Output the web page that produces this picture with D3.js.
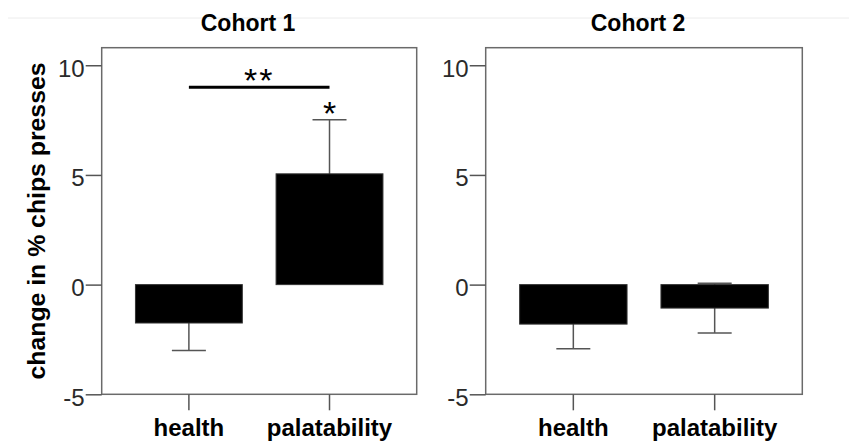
<!doctype html>
<html lang="en">
<head>
    <meta charset="UTF-8">
    <script src="https://cdnjs.cloudflare.com/ajax/libs/d3/7.8.5/d3.min.js"></script>
    <title>Cohorts</title>
    <style>
        body { margin: 0; background: #fff; }
        text { font-family: "Liberation Sans", Arial, sans-serif; }
    </style>
</head>
<body>
<div id="viz_area"></div>

<script>
    // values
    const categories = ["health", "palatability"];
    const cohorts = ["Cohort 1", "Cohort 2"];
    const cohort1Mean = [-1.75, 5.05];
    const cohort1Err = [1.25, 2.47];
    const cohort2Mean = [-1.8, -1.07];
    const cohort2Err = [1.12, 1.13];
    const yTicks = [-5, 0, 5, 10];

    const width = 849, height = 443;

    const svg = d3.select('#viz_area')
        .append("svg")
        .attr("width", width)
        .attr("height", height);

    // faint rule at the very top
    svg.append("line")
        .attr("x1", 8).attr("x2", width)
        .attr("y1", 18).attr("y2", 18)
        .attr("stroke", "#ececec").attr("stroke-width", 1);

    const y = d3.scaleLinear().domain([-5, 10.8]).range([394.3, 47.7]);

    const panels = [
        {title: cohorts[0], mean: cohort1Mean, err: cohort1Err, x0: 101.7, x1: 416.7, titleX: 248},
        {title: cohorts[1], mean: cohort2Mean, err: cohort2Err, x0: 485.7, x1: 802.3, titleX: 638}
    ];

    const lineCol = "#555";

    panels.forEach(function (p, pi) {
        const x = d3.scaleBand()
            .domain(categories)
            .range([p.x0, p.x1])
            .paddingInner(0.24)
            .paddingOuter(0.24);

        const g = svg.append("g");

        // frame
        g.append("rect")
            .attr("x", p.x0).attr("y", y.range()[1])
            .attr("width", p.x1 - p.x0)
            .attr("height", y.range()[0] - y.range()[1])
            .attr("fill", "none")
            .attr("stroke", "#6a6a6a")
            .attr("stroke-width", 1.5);

        // y axis
        const ya = g.append("g")
            .attr("transform", "translate(" + p.x0 + ",0)")
            .call(d3.axisLeft(y).tickValues(yTicks).tickSize(16).tickPadding(1)
                .tickFormat(d => String(d)));
        ya.select(".domain").remove();
        ya.selectAll("line").attr("stroke", lineCol).attr("stroke-width", 1.5);
        ya.selectAll("text")
            .attr("font-size", 24)
            .attr("font-family", "Liberation Sans, Arial, sans-serif")
            .attr("fill", "#2a2a2a")
            .attr("dy", "0.46em");

        // x axis
        const xa = g.append("g")
            .attr("transform", "translate(0," + y.range()[0] + ")")
            .call(d3.axisBottom(x).tickSize(16).tickPadding(9));
        xa.select(".domain").remove();
        xa.selectAll("line").attr("stroke", lineCol).attr("stroke-width", 1.5);
        xa.selectAll("text")
            .attr("font-size", 24)
            .attr("font-weight", "bold")
            .attr("font-family", "Liberation Sans, Arial, sans-serif")
            .attr("fill", "#000");

        const rows = categories.map((c, i) => ({cat: c, mean: p.mean[i], err: p.err[i]}));

        // error bars (drawn under the bars)
        const eb = g.selectAll(".eb").data(rows).join("g")
            .attr("class", "eb")
            .attr("stroke", lineCol)
            .attr("stroke-width", 1.5);
        const cx = d => x(d.cat) + x.bandwidth() / 2;
        eb.append("line")
            .attr("x1", cx).attr("x2", cx)
            .attr("y1", d => y(d.mean - d.err))
            .attr("y2", d => y(d.mean + d.err));
        [-1, 1].forEach(function (s) {
            eb.append("line")
                .attr("x1", d => cx(d) - 17).attr("x2", d => cx(d) + 17)
                .attr("y1", d => y(d.mean + s * d.err))
                .attr("y2", d => y(d.mean + s * d.err));
        });

        // bars
        g.selectAll(".bar").data(rows).join("rect")
            .attr("class", "bar")
            .attr("x", d => x(d.cat))
            .attr("width", x.bandwidth())
            .attr("y", d => y(Math.max(0, d.mean)))
            .attr("height", d => Math.abs(y(d.mean) - y(0)))
            .attr("fill", "#000")
            .attr("stroke", "#333")
            .attr("stroke-width", 1);

        // title
        svg.append("text")
            .attr("x", p.titleX).attr("y", 31)
            .attr("text-anchor", "middle")
            .attr("font-size", 23)
            .attr("font-weight", "bold")
            .text(p.title);

        // significance marks on cohort 1
        if (pi === 0) {
            const c0 = x(categories[0]) + x.bandwidth() / 2;
            const c1 = x(categories[1]) + x.bandwidth() / 2;
            g.append("line")
                .attr("x1", c0).attr("x2", c1)
                .attr("y1", y(9)).attr("y2", y(9))
                .attr("stroke", "#000").attr("stroke-width", 3);
            g.append("text")
                .attr("x", (c0 + c1) / 2).attr("y", y(9) + 5)
                .attr("text-anchor", "middle")
                .attr("font-size", 34)
                .attr("letter-spacing", 2)
                .text("**");
            g.append("text")
                .attr("x", c1).attr("y", y(p.mean[1] + p.err[1]) + 5)
                .attr("text-anchor", "middle")
                .attr("font-size", 34)
                .text("*");
        }
    });

    // y axis title
    svg.append("text")
        .attr("transform", "translate(45,221) rotate(-90)")
        .attr("text-anchor", "middle")
        .attr("font-size", 24)
        .attr("font-weight", "bold")
        .attr("textLength", 317)
        .attr("lengthAdjust", "spacingAndGlyphs")
        .text("change in % chips presses");
</script>
</body>
</html>
